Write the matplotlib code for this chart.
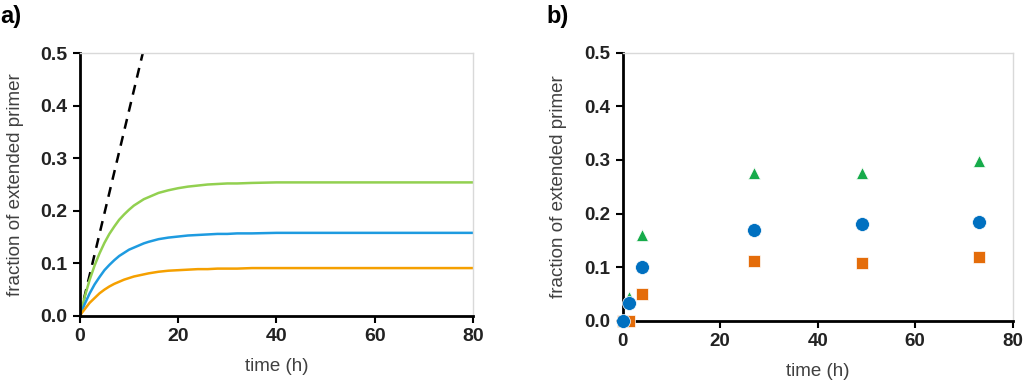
import matplotlib.pyplot as plt

plt.rcParams.update({
    "font.family": ["Liberation Sans", "DejaVu Sans"],
    "font.size": 12,
})

# ── panel a: model curves ──
t_model = [0, 0.5, 1, 2, 3, 4, 5, 6, 7, 8, 9, 10, 11, 12, 13, 14, 16, 18, 20, 22, 24,
           26, 28, 30, 32, 35, 40, 50, 60, 80]
green_model = [0, 0.019, 0.037, 0.069, 0.096, 0.119, 0.139, 0.156, 0.170, 0.183, 0.193,
               0.202, 0.210, 0.216, 0.222, 0.226, 0.234, 0.239, 0.243, 0.246, 0.248,
               0.250, 0.251, 0.252, 0.252, 0.253, 0.254, 0.254, 0.254, 0.254]
blue_model = [0, 0.012, 0.023, 0.043, 0.060, 0.074, 0.087, 0.097, 0.106, 0.114, 0.120,
              0.126, 0.130, 0.134, 0.138, 0.141, 0.146, 0.149, 0.151, 0.153, 0.154,
              0.155, 0.156, 0.156, 0.157, 0.157, 0.158, 0.158, 0.158, 0.158]
orange_model = [0, 0.007, 0.013, 0.025, 0.034, 0.043, 0.050, 0.056, 0.061, 0.065, 0.069,
                0.072, 0.075, 0.077, 0.079, 0.081, 0.084, 0.086, 0.087, 0.088, 0.089,
                0.089, 0.090, 0.090, 0.090, 0.091, 0.091, 0.091, 0.091, 0.091]
t_dashed = [0, 12.8]
y_dashed = [0, 0.5]

# ── panel b: measured points ──
t_data = [0, 1.4, 4, 27, 49, 73]
green_data = [0, 0.045, 0.161, 0.276, 0.276, 0.299]
blue_data = [0, 0.034, 0.100, 0.170, 0.181, 0.184]
orange_data = [0, 0, 0.050, 0.111, 0.108, 0.119]

XTICKS = [0, 20, 40, 60, 80]
YTICKS = [0.0, 0.1, 0.2, 0.3, 0.4, 0.5]


def style_axes(ax, tick_size, xpad, ypad):
    ax.set_xlim(0, 80)
    ax.set_ylim(0, 0.5)
    ax.set_xticks(XTICKS)
    ax.set_yticks(YTICKS)
    ax.set_yticklabels([f"{v:.1f}" for v in YTICKS])
    for s in ("left", "bottom"):
        ax.spines[s].set_linewidth(2)
        ax.spines[s].set_color("black")
    for s in ("top", "right"):
        ax.spines[s].set_linewidth(1)
        ax.spines[s].set_color("#D9D9D9")
    ax.tick_params(direction="out", length=5, width=1.5, colors="black",
                   labelsize=tick_size, pad=4)
    for lab in ax.get_xticklabels() + ax.get_yticklabels():
        lab.set_fontweight("bold")
        lab.set_color("#222222")
    ax.set_xlabel("time (h)", fontsize=13.5, color="#404040", labelpad=xpad)
    ax.set_ylabel("fraction of extended primer", fontsize=13.5, color="#404040",
                  labelpad=ypad)


fig = plt.figure(figsize=(10.24, 3.82), dpi=100)

ax = fig.add_axes([0.078, 0.173, 0.384, 0.688])
ax.plot(t_dashed, y_dashed, "--", color="black", lw=1.8, dashes=(4, 3))
ax.plot(t_model, green_model, color="#92D050", lw=1.8)
ax.plot(t_model, blue_model, color="#1E9BE0", lw=1.8)
ax.plot(t_model, orange_model, color="#F5A000", lw=1.8)
style_axes(ax, 14, 9, 12)
fig.text(0.0, 0.94, "a)", fontsize=17, fontweight="bold")

ax = fig.add_axes([0.608, 0.160, 0.381, 0.702])
ax.plot(t_data, green_data, "^", color="#16AB4A", ms=8.5, mec="white", mew=0.5,
        clip_on=False, zorder=3)
ax.plot(t_data, orange_data, "s", color="#E46C0A", ms=9, mec="white", mew=0.5,
        clip_on=False, zorder=3)
ax.plot(t_data, blue_data, "o", color="#0070C0", ms=10, mec="white", mew=0.5,
        clip_on=False, zorder=4)
style_axes(ax, 13.5, 9, 12)
fig.text(0.534, 0.94, "b)", fontsize=17, fontweight="bold")

fig.savefig("out.png", dpi=100)
